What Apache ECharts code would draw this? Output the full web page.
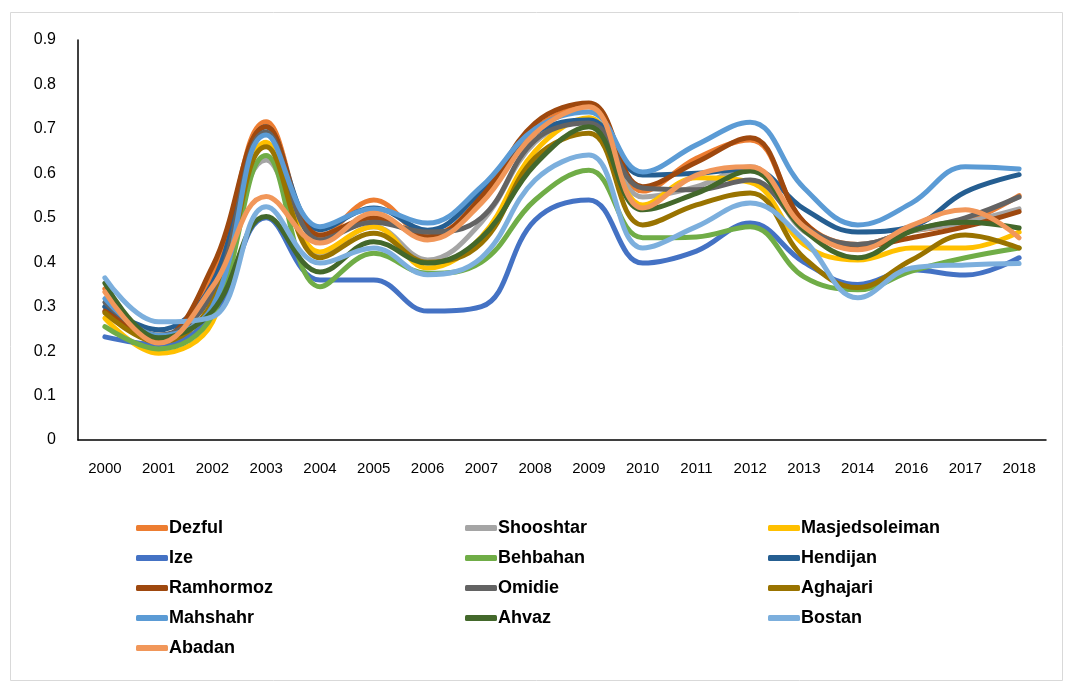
<!DOCTYPE html>
<html>
<head>
<meta charset="utf-8">
<script src="https://cdn.jsdelivr.net/npm/echarts@6/dist/echarts.min.js"></script>
<style>
html,body{margin:0;padding:0;background:#fff;}
#chart{width:1065px;height:684px;}
</style>
</head>
<body>
<div id="chart"></div>
<script>
const years = ['2000','2001','2002','2003','2004','2005','2006','2007','2008','2009','2010','2011','2012','2013','2014','2016','2017','2018'];
const yTicks = [0, 0.1, 0.2, 0.3, 0.4, 0.5, 0.6, 0.7, 0.8, 0.9];

const Dezful         = [0.34, 0.22, 0.37, 0.716, 0.455, 0.54, 0.46, 0.54, 0.70, 0.75, 0.56, 0.634, 0.675, 0.49, 0.44, 0.47, 0.49, 0.55];
const Shooshtar      = [0.30, 0.23, 0.33, 0.63, 0.42, 0.48, 0.405, 0.49, 0.67, 0.72, 0.547, 0.57, 0.615, 0.47, 0.44, 0.47, 0.49, 0.52];
const Masjedsoleiman = [0.274, 0.195, 0.265, 0.67, 0.423, 0.48, 0.387, 0.457, 0.65, 0.725, 0.529, 0.59, 0.58, 0.44, 0.405, 0.432, 0.432, 0.468];
const Ize            = [0.232, 0.215, 0.28, 0.50, 0.36, 0.36, 0.29, 0.30, 0.495, 0.54, 0.398, 0.425, 0.488, 0.40, 0.35, 0.383, 0.371, 0.41];
const Behbahan       = [0.255, 0.205, 0.28, 0.64, 0.345, 0.42, 0.375, 0.40, 0.54, 0.607, 0.455, 0.457, 0.48, 0.367, 0.338, 0.38, 0.41, 0.432];
const Hendijan       = [0.30, 0.248, 0.353, 0.705, 0.473, 0.522, 0.472, 0.56, 0.69, 0.72, 0.596, 0.60, 0.61, 0.52, 0.468, 0.48, 0.558, 0.597];
const Ramhormoz      = [0.29, 0.23, 0.39, 0.705, 0.461, 0.50, 0.457, 0.547, 0.713, 0.758, 0.57, 0.625, 0.68, 0.49, 0.435, 0.455, 0.48, 0.514];
const Omidie         = [0.31, 0.236, 0.33, 0.693, 0.45, 0.49, 0.468, 0.50, 0.675, 0.713, 0.567, 0.563, 0.585, 0.48, 0.44, 0.472, 0.50, 0.547];
const Aghajari       = [0.286, 0.22, 0.31, 0.66, 0.41, 0.465, 0.40, 0.443, 0.635, 0.69, 0.484, 0.529, 0.556, 0.41, 0.343, 0.405, 0.461, 0.432];
const Mahshahr       = [0.318, 0.235, 0.30, 0.686, 0.48, 0.52, 0.488, 0.57, 0.70, 0.738, 0.603, 0.664, 0.715, 0.567, 0.484, 0.533, 0.615, 0.61];
const Ahvaz          = [0.353, 0.23, 0.29, 0.503, 0.378, 0.446, 0.398, 0.455, 0.62, 0.705, 0.518, 0.555, 0.605, 0.472, 0.41, 0.47, 0.49, 0.477];
const Bostan         = [0.365, 0.266, 0.277, 0.525, 0.398, 0.432, 0.372, 0.41, 0.585, 0.641, 0.432, 0.48, 0.533, 0.45, 0.32, 0.387, 0.394, 0.397];
const Abadan         = [0.333, 0.218, 0.345, 0.548, 0.443, 0.51, 0.45, 0.533, 0.69, 0.75, 0.522, 0.596, 0.615, 0.48, 0.428, 0.483, 0.518, 0.455];

const seriesDefs = [
  ['Dezful', Dezful, '#ED7D31'],
  ['Shooshtar', Shooshtar, '#A5A5A5'],
  ['Masjedsoleiman', Masjedsoleiman, '#FFC000'],
  ['Ize', Ize, '#4472C4'],
  ['Behbahan', Behbahan, '#70AD47'],
  ['Hendijan', Hendijan, '#255E91'],
  ['Ramhormoz', Ramhormoz, '#9E480E'],
  ['Omidie', Omidie, '#636363'],
  ['Aghajari', Aghajari, '#997300'],
  ['Mahshahr', Mahshahr, '#5B9BD5'],
  ['Ahvaz', Ahvaz, '#43682B'],
  ['Bostan', Bostan, '#7CAFDD'],
  ['Abadan', Abadan, '#F1975A']
];

const chart = echarts.init(document.getElementById('chart'), null, {renderer: 'canvas'});
const font = 'Liberation Sans';
const legendBase = {
  orient: 'vertical',
  top: 514,
  itemGap: 12,
  itemWidth: 32,
  itemHeight: 6,
  icon: 'roundRect',
  textStyle: {fontFamily: font, fontSize: 18, fontWeight: 'bold', color: '#000', padding: [0,0,0,-4]},
  selectedMode: false
};
const col1 = ['Dezful','Ize','Ramhormoz','Mahshahr','Abadan'];
const col2 = ['Shooshtar','Behbahan','Omidie','Ahvaz'];
const col3 = ['Masjedsoleiman','Hendijan','Aghajari','Bostan'];

chart.setOption({
  animation: false,
  backgroundColor: '#fff',
  color: seriesDefs.map(d => d[2]),
  graphic: [{
    type: 'rect', left: 8, top: 10,
    shape: {width: 1052, height: 668},
    style: {fill: 'none', stroke: '#d9d9d9', lineWidth: 1}
  }],
  grid: {left: 78, right: 19, top: 40, bottom: 244, containLabel: false},
  legend: [
    Object.assign({}, legendBase, {left: 131, data: col1}),
    Object.assign({}, legendBase, {left: 460, data: col2}),
    Object.assign({}, legendBase, {left: 763, data: col3})
  ],
  xAxis: {
    type: 'category',
    data: years,
    boundaryGap: true,
    axisLine: {show: true, lineStyle: {color: '#000', width: 1.5}},
    axisTick: {show: false},
    axisLabel: {fontFamily: font, fontSize: 15, color: '#000', margin: 21},
    splitLine: {show: false}
  },
  yAxis: {
    type: 'value',
    min: yTicks[0],
    max: yTicks[yTicks.length - 1],
    interval: 0.1,
    axisLine: {show: true, lineStyle: {color: '#000', width: 1.5}},
    axisTick: {show: false},
    axisLabel: {fontFamily: font, fontSize: 16, color: '#000', margin: 22,
      formatter: v => String(Math.round(v * 10) / 10)},
    splitLine: {show: false}
  },
  series: seriesDefs.map(d => ({
    name: d[0],
    type: 'line',
    data: d[1],
    smooth: 0.4,
    showSymbol: false,
    symbol: 'none',
    lineStyle: {width: 5, color: d[2], cap: 'round'},
    itemStyle: {color: d[2]}
  }))
});
</script>
</body>
</html>
